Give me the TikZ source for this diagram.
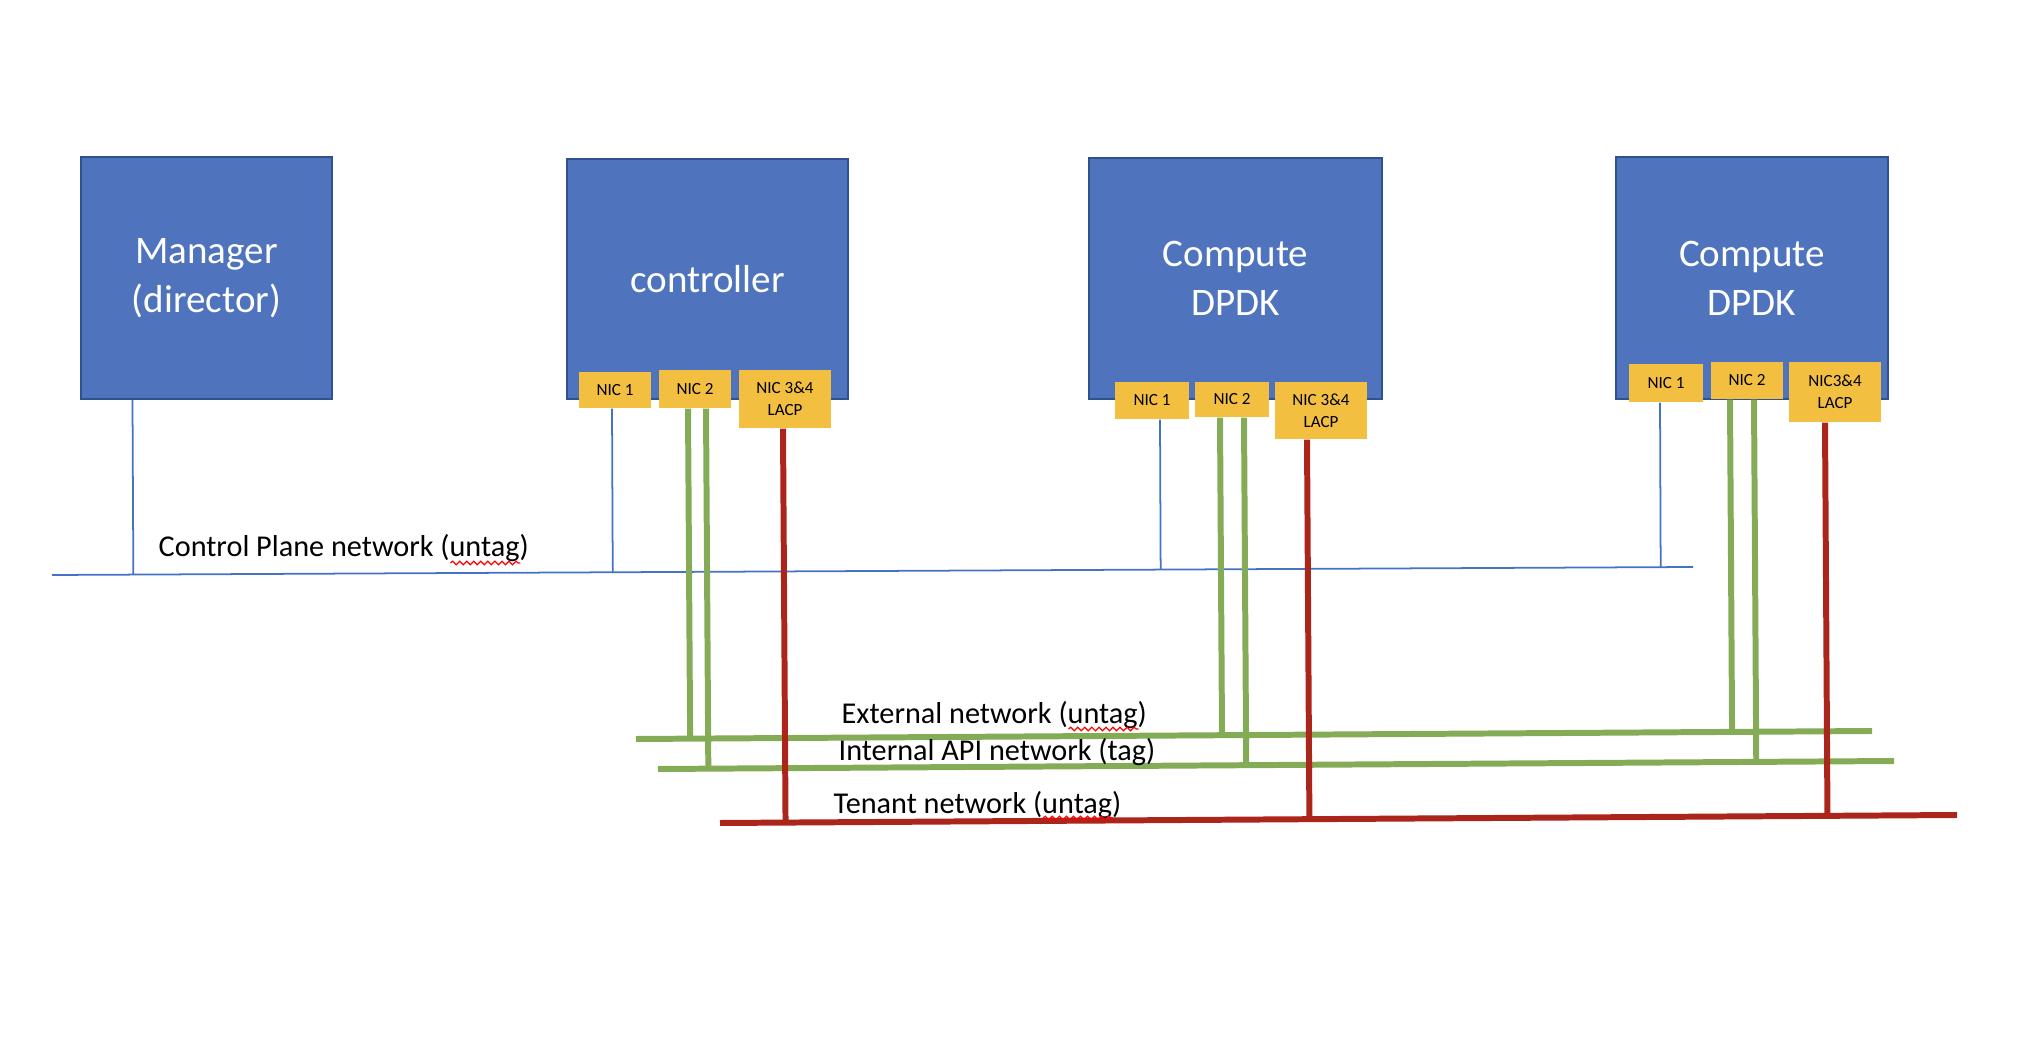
\documentclass[tikz,border=0pt]{standalone}
\usepackage{fontspec}
\setmainfont{Carlito}
\usepackage{tikz}
\usetikzlibrary{calc,decorations.pathmorphing}
\definecolor{hostblue}{RGB}{79,116,189}
\definecolor{hostedge}{RGB}{47,82,143}
\definecolor{nicgold}{RGB}{242,191,64}
\definecolor{ctlblue}{RGB}{68,114,196}
\definecolor{netgreen}{RGB}{132,171,86}
\definecolor{netred}{RGB}{171,37,27}

\begin{document}
\begin{tikzpicture}[x=0.01cm, y=-0.01cm,
                host/.style={draw=hostedge, line width=0.6pt, fill=hostblue, text=white, align=center, inner sep=0pt, font=\fontsize{11.1}{13.9}\selectfont},
                nic/.style={fill=nicgold, align=center, inner sep=0pt, font=\fontsize{4.85}{6.3}\selectfont},
                ctlnet/.style={ctlblue, line width=0.5pt},
                grnnet/.style={netgreen, line width=1.7pt},
                rednet/.style={netred, line width=1.7pt},
                lbl/.style={anchor=base west, inner sep=0pt, font=\fontsize{8.6}{10}\selectfont},
                typo/.style={red, line width=0.35pt, decorate, decoration={snake, amplitude=0.5pt, segment length=2pt}}]
                \useasboundingbox (0,0) rectangle (2042,1040);

                \node[host, minimum width=2.51cm, minimum height=2.42cm] (M) at (206.5,278) {Manager\\(director)};
                \node[host, minimum width=2.81cm, minimum height=2.40cm] (C) at (707.5,279) {controller};
                \node[host, minimum width=2.93cm, minimum height=2.41cm] (P) at (1235.5,278.5) {Compute\\DPDK};
                \node[host, minimum width=2.72cm, minimum height=2.42cm] (Q) at (1752,278) {Compute\\DPDK};

                \node[nic, minimum width=0.72cm, minimum height=0.36cm] (Ca) at (615,390) {NIC 1};
                \node[nic, minimum width=0.72cm, minimum height=0.38cm] (Cb) at (695,389) {NIC 2};
                \node[nic, minimum width=0.92cm, minimum height=0.58cm] (Cc) at (785,399) {NIC 3\&4\\LACP};
                \node[nic, minimum width=0.74cm, minimum height=0.37cm] (Pa) at (1152,400.5) {NIC 1};
                \node[nic, minimum width=0.74cm, minimum height=0.35cm] (Pb) at (1232,399.5) {NIC 2};
                \node[nic, minimum width=0.92cm, minimum height=0.57cm] (Pc) at (1321,410.5) {NIC 3\&4\\LACP};
                \node[nic, minimum width=0.74cm, minimum height=0.38cm] (Qa) at (1666,383) {NIC 1};
                \node[nic, minimum width=0.72cm, minimum height=0.37cm] (Qb) at (1747,380.5) {NIC 2};
                \node[nic, minimum width=0.92cm, minimum height=0.60cm] (Qc) at (1835,392) {NIC3\&4\\LACP};

                \coordinate (U1) at (52,575);
                \coordinate (U2) at (1693,567);
                \coordinate (E1) at (636,739);
                \coordinate (E2) at (1872,731);
                \coordinate (I1) at (658,769);
                \coordinate (I2) at (1894,761);
                \coordinate (T1) at (720,823);
                \coordinate (T2) at (1957,815);

                \coordinate (m0) at ($(M.south)+(-74,0)$);
                \coordinate (ca) at ($(Ca.south)+(-3,0)$);
                \coordinate (pa) at ($(Pa.south)+(8,0)$);
                \coordinate (qa) at ($(Qa.south)+(-6,0)$);
                \coordinate (cb1) at ($(Cb.south)+(-7,0)$);
                \coordinate (cb2) at ($(Cb.south)+(11,0)$);
                \coordinate (pb1) at ($(Pb.south)+(-12,0)$);
                \coordinate (pb2) at ($(Pb.south)+(12,0)$);
                \coordinate (qb1) at ($(Qb.south)+(-17,0)$);
                \coordinate (qb2) at ($(Qb.south)+(7,0)$);
                \coordinate (cc) at ($(Cc.south)+(-2,0)$);
                \coordinate (pc) at ($(Pc.south)+(-14,0)$);
                \coordinate (qc) at ($(Qc.south)+(-10,0)$);

                \draw[ctlnet] (U1) -- (U2);
                \draw[ctlnet] (m0) -- ($(U1)!(m0)!(U2)$);
                \draw[ctlnet] (ca) -- ($(U1)!(ca)!(U2)$);
                \draw[ctlnet] (pa) -- ($(U1)!(pa)!(U2)$);
                \draw[ctlnet] (qa) -- ($(U1)!(qa)!(U2)$);

                \draw[grnnet] (E1) -- (E2);
                \draw[grnnet] (I1) -- (I2);
                \draw[grnnet] (cb1) -- ($(E1)!(cb1)!(E2)$);
                \draw[grnnet] (cb2) -- ($(I1)!(cb2)!(I2)$);
                \draw[grnnet] (pb1) -- ($(E1)!(pb1)!(E2)$);
                \draw[grnnet] (pb2) -- ($(I1)!(pb2)!(I2)$);
                \draw[grnnet] (qb1) -- ($(E1)!(qb1)!(E2)$);
                \draw[grnnet] (qb2) -- ($(I1)!(qb2)!(I2)$);

                \draw[rednet] (T1) -- (T2);
                \draw[rednet] (cc) -- ($(T1)!(cc)!(T2)$);
                \draw[rednet] (pc) -- ($(T1)!(pc)!(T2)$);
                \draw[rednet] (qc) -- ($(T1)!(qc)!(T2)$);

                \node[lbl] (LU) at (158,557) {Control Plane network (untag)};
                \node[lbl] (LE) at (841,723) {External network (untag)};
                \node[lbl] (LI) at (838,760) {Internal API network (tag)};
                \node[lbl] (LT) at (833,813) {Tenant network (untag)};

                \draw[typo] ($(LU.base east)+(-79,6)$) -- ($(LU.base east)+(-9,6)$);
                \draw[typo] ($(LE.base east)+(-79,6)$) -- ($(LE.base east)+(-9,6)$);
                \draw[typo] ($(LT.base east)+(-79,5)$) -- ($(LT.base east)+(-9,5)$);

            \end{tikzpicture}
\end{document}
